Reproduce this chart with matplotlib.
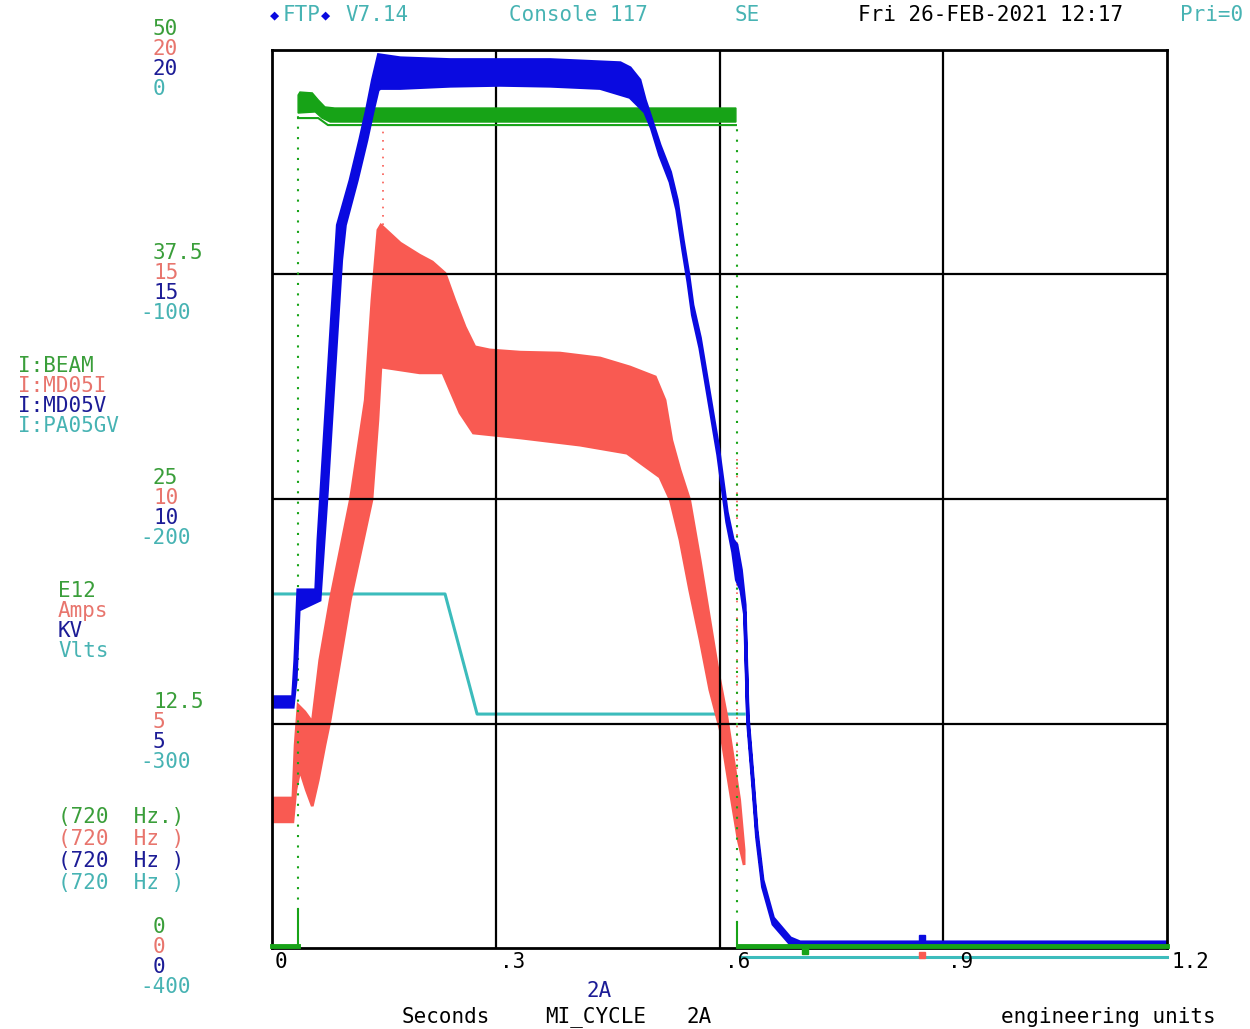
import matplotlib
matplotlib.use("Agg")
import matplotlib.pyplot as plt
import matplotlib.transforms as mtransforms
import numpy as np

# scope trace, MI_CYCLE 2A, 720 Hz sampling
# blue (I:MD05V, KV) and red (I:MD05I, Amps) share the 0..20 scale
# green (I:BEAM, E12) 0..50, cyan (I:PA05GV, Vlts) -400..0

blue_top_t = [0, 0.028, 0.031, 0.035, 0.059, 0.062, 0.071, 0.080, 0.088, 0.105, 0.118, 0.127,
              0.135, 0.143, 0.172, 0.239, 0.306, 0.373, 0.440, 0.467, 0.480, 0.493, 0.500,
              0.509, 0.520, 0.534, 0.543, 0.551, 0.558, 0.564, 0.574, 0.598, 0.610, 0.618,
              0.623, 0.629, 0.634, 0.638, 0.645, 0.650, 0.658, 0.672, 0.695, 0.708, 1.2]
blue_top_v = [5.59, 5.59, 6.41, 7.97, 7.97, 9.09, 11.54, 13.99, 16.10, 17.10, 18.00, 18.66,
              19.33, 19.89, 19.82, 19.78, 19.78, 19.78, 19.73, 19.71, 19.60, 19.33, 18.89,
              18.44, 17.88, 17.28, 16.66, 15.77, 15.06, 14.32, 13.59, 11.20, 9.71, 9.09,
              8.98, 8.42, 7.64, 5.19, 3.74, 2.63, 1.51, 0.67, 0.22, 0.13, 0.13]
blue_bot_t = [0, 0.028, 0.032, 0.036, 0.064, 0.074, 0.083, 0.093, 0.098, 0.114, 0.127, 0.135,
              0.142, 0.145, 0.172, 0.239, 0.306, 0.373, 0.440, 0.480, 0.500, 0.509, 0.520,
              0.534, 0.543, 0.551, 0.558, 0.564, 0.574, 0.598, 0.610, 0.618, 0.623, 0.629,
              0.634, 0.638, 0.645, 0.650, 0.658, 0.672, 0.695, 0.708, 1.2]
blue_bot_v = [5.37, 5.37, 5.97, 7.53, 7.75, 10.20, 12.65, 15.32, 16.10, 17.10, 18.00, 18.62,
              19.11, 19.15, 19.15, 19.20, 19.22, 19.20, 19.15, 18.95, 18.62, 18.26, 17.66,
              17.06, 16.44, 15.55, 14.83, 14.10, 13.36, 10.98, 9.49, 8.82, 8.20, 7.97,
              7.42, 5.03, 3.59, 2.47, 1.36, 0.53, 0.09, 0.045, 0.045]

red_top_t = [0, 0.028, 0.031, 0.035, 0.044, 0.054, 0.064, 0.078, 0.105, 0.125, 0.134, 0.142,
             0.146, 0.172, 0.198, 0.215, 0.232, 0.245, 0.259, 0.272, 0.292, 0.333, 0.386,
             0.440, 0.480, 0.514, 0.527, 0.536, 0.547, 0.560, 0.574, 0.587, 0.598, 0.610,
             0.621, 0.627, 0.633]
red_top_v = [3.34, 3.34, 4.52, 5.41, 5.26, 5.03, 6.41, 7.75, 9.98, 12.20, 14.43, 15.99,
             16.10, 15.70, 15.43, 15.28, 15.03, 14.43, 13.83, 13.39, 13.32, 13.27, 13.25,
             13.14, 12.94, 12.72, 12.20, 11.31, 10.65, 9.98, 8.64, 7.31, 6.19, 5.14,
             3.96, 3.30, 2.18]
red_bot_t = [0, 0.028, 0.032, 0.0375, 0.046, 0.054, 0.062, 0.071, 0.078, 0.105, 0.134, 0.142,
             0.146, 0.198, 0.229, 0.252, 0.270, 0.333, 0.413, 0.476, 0.520, 0.534, 0.547,
             0.560, 0.574, 0.587, 0.601, 0.614, 0.625, 0.633]
red_bot_v = [2.81, 2.81, 3.52, 3.96, 3.52, 3.16, 3.74, 4.52, 5.08, 7.75, 9.98, 11.76,
             12.94, 12.81, 12.81, 11.92, 11.47, 11.36, 11.20, 11.02, 10.49, 9.98, 9.09,
             7.97, 6.86, 5.75, 4.86, 3.52, 2.41, 1.85]

green_top_t = [0.035, 0.0375, 0.054, 0.062, 0.071, 0.084, 0.622]
green_top_v = [47.49, 47.66, 47.61, 47.22, 46.83, 46.77, 46.77]
green_bot_t = [0.035, 0.058, 0.067, 0.078, 0.622]
green_bot_v = [46.49, 46.55, 46.21, 45.99, 45.99]
green_low_t = [0.035, 0.062, 0.075, 0.622]
green_low_v = [46.21, 46.21, 45.82, 45.82]
green_base_t = [[0, 0.035], [0.625, 1.2]]
green_base_v = [0.1, 0.1]

cyan_t = [0, 0.232, 0.275, 0.633]
cyan_v = [-242.3, -242.3, -295.8, -295.8]
cyan_after_t = [0.627, 1.2]
cyan_after_v = -404

grid_t = [0.3, 0.6, 0.9]
xtick_labels = ["0", ".3", ".6", ".9", "1.2"]
green_ticks = ["50", "37.5", "25", "12.5", "0"]
red_ticks = ["20", "15", "10", "5", "0"]
blue_ticks = ["20", "15", "10", "5", "0"]
cyan_ticks = ["0", "-100", "-200", "-300", "-400"]
names = ["I:BEAM", "I:MD05I", "I:MD05V", "I:PA05GV"]
units = ["E12", "Amps", "KV", "Vlts"]
rates = ["(720  Hz.)", "(720  Hz )", "(720  Hz )", "(720  Hz )"]

GREEN = "#17a317"
RED = "#f95a52"
BLUE = "#0a0ae0"
CYAN = "#3cbcbc"
T_GREEN = "#3a9e3a"
T_RED = "#e8756d"
T_BLUE = "#1c1c96"
T_CYAN = "#47b3b3"

W, H = 1250, 1029
fig = plt.figure(figsize=(12.5, 10.29), dpi=100)
ax = fig.add_axes([272 / W, 1 - 948 / H, (1167 - 272) / W, (948 - 50) / H])
ax.set_xticks([])
ax.set_yticks([])
for s in ax.spines.values():
    s.set_linewidth(2)
    s.set_color("black")
    s.set_zorder(6)

green_tr = mtransforms.Affine2D().scale(1, 20 / 50) + ax.transData
cyan_tr = mtransforms.Affine2D().scale(1, 20 / 400).translate(0, 20) + ax.transData

# grid
for t in grid_t:
    ax.axvline(t, color="black", lw=1.6, zorder=2.5)
for v in [5, 10, 15]:
    ax.axhline(v, color="black", lw=1.6, zorder=2.5)

# cyan
ax.plot(cyan_t, cyan_v, color=CYAN, lw=2.2, transform=cyan_tr, zorder=1)
ax.plot(cyan_after_t, [cyan_after_v] * 2, color=CYAN, lw=2.2, transform=cyan_tr,
        zorder=1, clip_on=False)

# red
ax.fill(np.r_[red_top_t, red_bot_t[::-1]], np.r_[red_top_v, red_bot_v[::-1]],
        color=RED, lw=2, zorder=2)
ax.plot([0.149, 0.149], [16.1, 18.2], color=RED, lw=1.2, ls=(0, (1, 4)), zorder=2)
ax.plot([0.624, 0.624], [10.9, 2.4], color=RED, lw=1.2, ls=(0, (1, 4)), zorder=2)

# green
ax.fill(np.r_[green_top_t, green_bot_t[::-1]], np.r_[green_top_v, green_bot_v[::-1]],
        color=GREEN, lw=1, transform=green_tr, zorder=3)
ax.plot(green_low_t, green_low_v, color=GREEN, lw=1.5, transform=green_tr, zorder=3)
ax.plot([0.035, 0.035], [0.1, 2.1], color=GREEN, lw=1.5, transform=green_tr, zorder=3)
ax.plot([0.035, 0.035], [2.1, 46.5], color=GREEN, lw=1.5, ls=(0, (1, 4)),
        transform=green_tr, zorder=3)
ax.plot([0.624, 0.624], [1.4, 45.8], color=GREEN, lw=1.5, ls=(0, (1, 4)),
        transform=green_tr, zorder=3)
ax.plot([0.624, 0.624], [0.1, 1.4], color=GREEN, lw=1.5, transform=green_tr, zorder=3)
for bt in green_base_t:
    ax.plot(bt, [green_base_v[0]] * 2, color=GREEN, lw=3.5, transform=green_tr,
            zorder=7, clip_on=False)
ax.plot([0.715], [-0.15], marker="s", ms=5, color=GREEN, transform=green_tr,
        zorder=7, clip_on=False)

# blue
ax.fill(np.r_[blue_top_t, blue_bot_t[::-1]], np.r_[blue_top_v, blue_bot_v[::-1]],
        color=BLUE, lw=2.5, zorder=4)
ax.plot([0.871], [0.22], marker="s", ms=5, color=BLUE, zorder=8, clip_on=False)
ax.plot([0.871], [-0.16], marker="s", ms=5, color=RED, zorder=8, clip_on=False)

ax.set_xlim(0, 1.2)
ax.set_ylim(0, 20)

FONT = ["DejaVu Sans Mono", "DejaVu Sans"]


def put(x, y, s, color, size=15, ha="left"):
    fig.text(x / W, 1 - y / H, s, color=color, fontsize=size, family=FONT,
             ha=ha, va="center")


# header
put(270, 15, "\u25c6", BLUE, size=11)
put(283, 15, "FTP", T_CYAN)
put(321, 15, "\u25c6", BLUE, size=11)
put(345, 15, "V7.14", T_CYAN)
put(509, 15, "Console 117", T_CYAN)
put(735, 15, "SE", T_CYAN)
put(858, 15, "Fri 26-FEB-2021 12:17", "black")
put(1180, 15, "Pri=0", T_CYAN)

# scale labels next to each grid line
row_y = [29, 253, 478, 702, 927]
for i, y0 in enumerate(row_y):
    put(153, y0, green_ticks[i], T_GREEN)
    put(153, y0 + 20, red_ticks[i], T_RED)
    put(153, y0 + 40, blue_ticks[i], T_BLUE)
    cx = 140 if cyan_ticks[i].startswith("-") else 153
    put(cx, y0 + 60, cyan_ticks[i], T_CYAN)

cols = [T_GREEN, T_RED, T_BLUE, T_CYAN]
for i in range(4):
    put(18, 366 + 20 * i, names[i], cols[i])
    put(58, 591 + 20 * i, units[i], cols[i])
    put(58, 817 + 22 * i, rates[i], cols[i])

# x labels
xl_x = [275, 500, 725, 948, 1172]
for x, s in zip(xl_x, xtick_labels):
    put(x, 962, s, "black")

put(587, 991, "2A", T_BLUE)
put(402, 1017, "Seconds", "black")
put(545, 1017, "MI_CYCLE", "black")
put(686, 1017, "2A", "black")
put(1001, 1017, "engineering units", "black")

fig.savefig("out.png", dpi=100, facecolor="white")
